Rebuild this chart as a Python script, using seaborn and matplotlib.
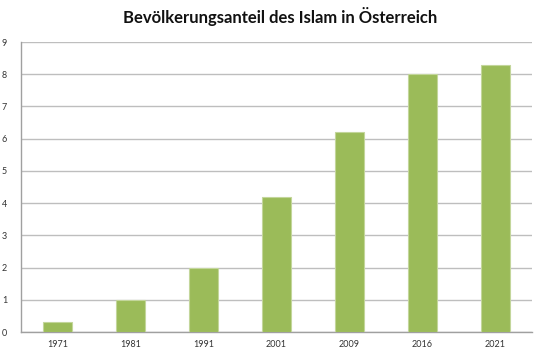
import numpy as np
import pandas as pd
import matplotlib
matplotlib.use('Agg')
import matplotlib.pyplot as plt
import seaborn as sns

# Data
years = ['1971', '1981', '1991', '2001', '2009', '2016', '2021']
share = [0.3, 1.0, 2.0, 4.2, 6.2, 8.0, 8.3]

df = pd.DataFrame({'Jahr': years, 'Anteil': share})

sns.set_style('white')
plt.rcParams['font.family'] = ['Lato', 'DejaVu Sans']

fig = plt.figure(figsize=(5.6, 3.56), dpi=100)
ax = fig.add_axes([21 / 560, 1 - 332 / 356, (532 - 21) / 560, (332 - 42) / 356])

sns.barplot(data=df, x='Jahr', y='Anteil', color='#9BBB59', width=0.4,
            edgecolor='#C3D69B', linewidth=0.8, saturation=1, ax=ax, zorder=3)

ax.set_ylim(0, 9)
ax.set_xlim(-0.5, len(years) - 0.5)
ax.set_yticks(range(0, 10))
ax.yaxis.grid(True, color='#BEBEBE', linewidth=1, zorder=0)
ax.set_axisbelow(True)

# category boundary ticks on x axis
ax.set_xticks(np.arange(-0.5, len(years), 1), minor=True)
ax.tick_params(axis='x', which='major', length=0, labelsize=6.5, pad=6, colors='#333333')
ax.tick_params(axis='x', which='minor', length=4, color='#A0A0A0', width=1)
ax.tick_params(axis='y', length=4, color='#A0A0A0', width=1, labelsize=6.5, pad=6, colors='#333333')
ax.tick_params(axis='y', color='#A0A0A0')

for side in ['top', 'right']:
    ax.spines[side].set_visible(False)
for side in ['left', 'bottom']:
    ax.spines[side].set_color('#A0A0A0')
    ax.spines[side].set_linewidth(1)

ax.set_xlabel('')
ax.set_ylabel('')

fig.text(0.5, 1 - 17 / 356, 'Bevölkerungsanteil des Islam in Österreich',
         ha='center', va='center', fontsize=12, fontweight='bold', color='#111111')

fig.savefig('out.png', dpi=100)
